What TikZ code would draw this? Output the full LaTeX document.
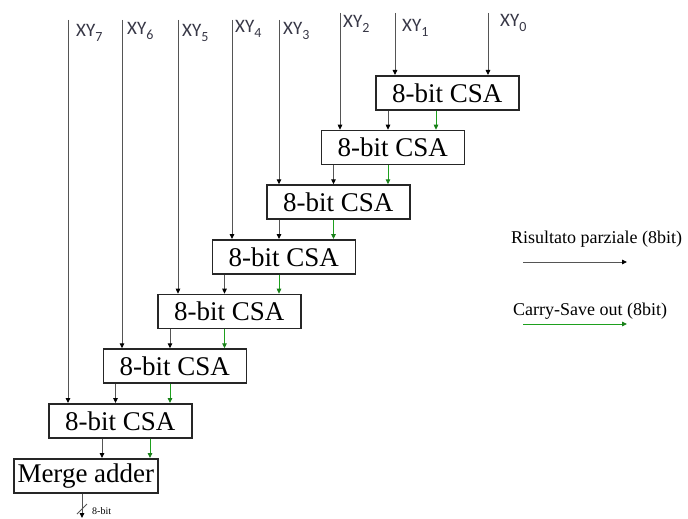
\documentclass[tikz,border=0pt]{standalone}
\usepackage{fontspec}
\setmainfont{Liberation Serif}
\newfontfamily\calib{Carlito}
\usetikzlibrary{arrows.meta,calc}
\definecolor{wire}{RGB}{85,85,85}
\definecolor{carry}{RGB}{30,160,30}
\definecolor{labink}{RGB}{55,55,70}
% operand label with a large, lowered index
\newcommand\xylab[1]{XY\raisebox{-5pt}{\fontsize{14}{14}\selectfont #1}}

\begin{document}
\begin{tikzpicture}[x=1pt,y=-1pt,
  csa/.style={draw=black!85, line width=1.7pt, fill=white, minimum width=143pt,
    minimum height=34pt, inner sep=0pt, anchor=north west,
    font=\fontsize{27}{27}\selectfont},
  res/.style={draw=wire, line width=0.9pt, -{Triangle[length=5pt,width=4.5pt,color=black]}},
  cso/.style={draw=carry, line width=0.9pt, -{Triangle[length=5pt,width=4.5pt,color=carry!80!black]}},
  lab/.style={anchor=base west, text=labink, font=\calib\fontsize{19}{19}\selectfont, inner sep=0pt},
  legend/.style={anchor=base west, inner sep=0pt, font=\fontsize{18}{18}\selectfont}]
\useasboundingbox (0,0) rectangle (688,519);

% the chain of carry-save adders
\node[csa] (b1) at (375,75) {8-bit CSA};
\node[csa] (b2) at (320.5,129.7) {8-bit CSA};
\node[csa] (b3) at (266,184.3) {8-bit CSA};
\node[csa] (b4) at (211.5,239) {8-bit CSA};
\node[csa] (b5) at (157,293.7) {8-bit CSA};
\node[csa] (b6) at (102.5,348.3) {8-bit CSA};
\node[csa] (b7) at (48,403) {8-bit CSA};
\node[csa, minimum width=144pt] (m) at (13,458) {Merge adder};

% partial-product inputs
\foreach \n/\x/\y/\lx/\ly/\bx in {7/68/20/76/37/b7, 6/122/20/127/35/b6, 5/178/20/182/37/b5,
    4/232/20/235/33/b4, 3/279/20/283/35/b3, 2/340/13/343/28/b2, 1/395/13/402/32/b1,
    0/488/13/500/27/b1} {
  \coordinate (t\n) at (\x,\y);
  \node[lab] (l\n) at (\lx,\ly) {\xylab{\n}};
  \draw[res] (t\n) -- (t\n |- \bx.north);
}

% sum and carry vectors passed down the chain
\foreach \a/\b/\g in {1/2/61, 2/3/67.5, 3/4/67.5, 4/5/67.5, 5/6/67.5, 6/7/67.5} {
  \path ($(b\a.south west)+(13,0)$) coordinate (s\a)
        ($(b\a.south west)+(\g,0)$) coordinate (c\a);
  \draw[res] (s\a) -- (s\a |- b\b.north);
  \draw[cso] (c\a) -- (c\a |- b\b.north);
}
\path ($(b7.south west)+(54,0)$) coordinate (s7)
      ($(b7.south west)+(102,0)$) coordinate (c7);
\draw[res] (s7) -- (s7 |- m.north);
\draw[cso] (c7) -- (c7 |- m.north);

% final 8-bit result
\coordinate (out) at (82,518);
\draw[res] (m.south -| out) -- (out);
\draw[wire, line width=0.9pt] (77,514) -- (87,504);
\node[anchor=west, inner sep=0pt, font=\fontsize{10}{10}\selectfont] (ow) at (92,511) {8-bit};

% legend
\node[legend] (lr) at (511,243) {Risultato parziale (8bit)};
\coordinate (lr1) at (523,262);
\coordinate (lr2) at (627,262);
\draw[res] (lr1) -- (lr2);
\node[legend] (lc) at (513,315) {Carry-Save out (8bit)};
\coordinate (lc1) at (523,324);
\coordinate (lc2) at (627,324);
\draw[cso] (lc1) -- (lc2);
\end{tikzpicture}
\end{document}
